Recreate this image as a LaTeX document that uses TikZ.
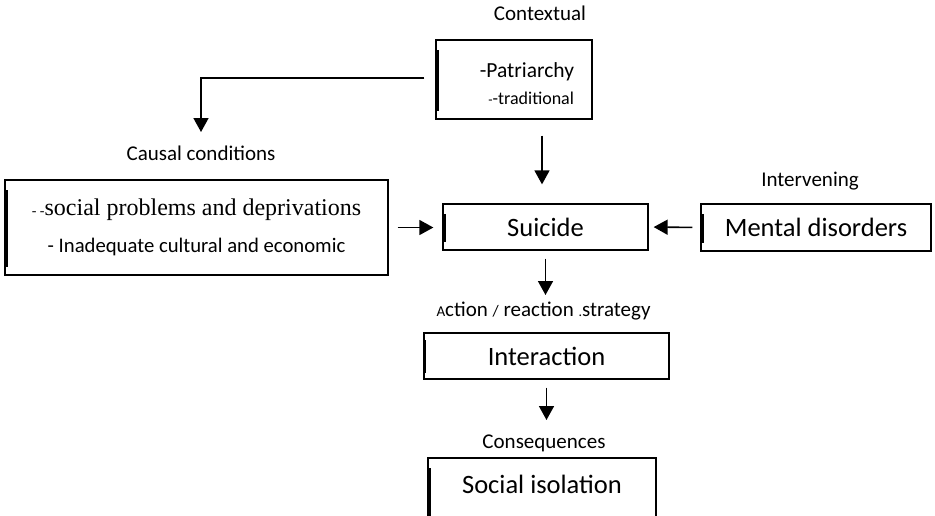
\documentclass[tikz,border=0pt]{standalone}
\usepackage{fontspec}
\setmainfont{Carlito}
\newfontfamily\timesfont{Liberation Serif}
\usetikzlibrary{arrows.meta}
\tikzstyle{frame} = [rectangle, draw=black, line width=1.3pt, inner sep=0pt, font=\fontsize{26.5}{30}\selectfont, path picture={\draw[line width=2.6pt] ([xshift=2pt,yshift=-10pt]path picture bounding box.north west) -- ([xshift=2pt,yshift=8pt]path picture bounding box.south west);}]
\tikzstyle{frametwo} = [rectangle, draw=black, line width=1.3pt, inner sep=0pt, font=\fontsize{26.5}{30}\selectfont, path picture={\draw[line width=3pt] ([yshift=-7pt]path picture bounding box.north west) -- ([yshift=6pt]path picture bounding box.south west) ([yshift=-7pt]path picture bounding box.north east) -- ([yshift=6pt]path picture bounding box.south east);}]
\tikzstyle{caption} = [anchor=base, inner sep=0pt, font=\fontsize{21}{24}\selectfont]
\tikzstyle{arr} = [-{Triangle[length=14pt,width=15pt]}, line width=1.6pt]

\begin{document}
\begin{tikzpicture}[x=1pt,y=-1pt]
    \useasboundingbox (0,0) rectangle (935,515);
    \clip (0,0) rectangle (935,515);

    % captions
    \node(contextlbl)[caption] at (540,20) {Contextual};
    \node(causallbl)[caption] at (201,160) {Causal conditions};
    \node(intervlbl)[caption] at (810,186) {Intervening};
    \node(actionlbl)[caption] at (543.5,316) {{\fontsize{15}{15}\selectfont A}ction {\fontsize{16}{16}\selectfont /} reaction {\fontsize{14}{14}\selectfont .}strategy};
    \node(conslbl)[caption] at (544,448) {Consequences};

    % boxes
    \node(pat)[frame, minimum width=156pt, minimum height=79pt, text width=120pt, align=right, font=\fontsize{21.5}{27}\selectfont] at (514,79.5) {\rule{0pt}{24pt}-Patriarchy\\{\fontsize{18}{20}\selectfont{\fontsize{14}{14}\selectfont -}-traditional}};
    \node(causal)[frame, minimum width=383pt, minimum height=95pt, align=center, font=\fontsize{20.7}{37}\selectfont] at (196.5,227.5) {{\timesfont\fontsize{24}{37}\selectfont{\fontsize{14}{14}\selectfont - -}social problems and deprivations}\\- Inadequate cultural and economic};
    \node(suicide)[frame, minimum width=205pt, minimum height=46pt] at (545.5,227) {Suicide};
    \node(mental)[frame, minimum width=230pt, minimum height=47pt] at (816,227.5) {Mental disorders};
    \node(interaction)[frametwo, minimum width=245pt, minimum height=46pt] at (546.5,356) {Interaction};
    \node(social)[frame, minimum width=228pt, minimum height=72pt, text depth=19pt] at (542,494) {Social isolation};

    % connectors
    \coordinate (sn) at ([xshift=-3.5pt]suicide.north);
    \draw[arr] ([xshift=-11pt,yshift=1.5pt]pat.west) -| ([yshift=28pt]causallbl.base);
    \draw[arr, shorten <=16pt, shorten >=19pt] (sn |- pat.south) -- (sn);
    \draw[arr, shorten <=9pt, shorten >=9pt] (causal.east) -- (causal.east -| suicide.west);
    \draw[arr, shorten <=8pt, shorten >=5pt] (mental.west) -- (suicide.east);
    \draw[arr, shorten <=8pt, shorten >=21pt] (suicide.south) -- (suicide.south |- actionlbl.base);
    \draw[arr, shorten <=8pt, shorten >=28pt] (interaction.south) -- (interaction.south |- conslbl.base);

\end{tikzpicture}
\end{document}
